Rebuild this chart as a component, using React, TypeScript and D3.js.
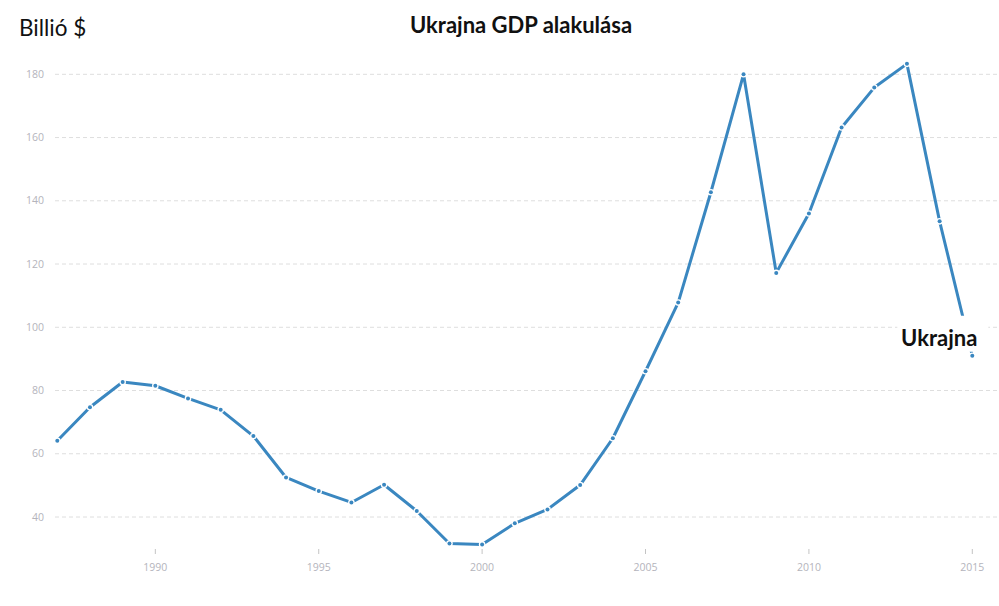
import React from "react";
import * as d3 from "d3";

const years: number[] = [
  1987, 1988, 1989, 1990, 1991, 1992, 1993, 1994, 1995, 1996, 1997, 1998, 1999, 2000,
  2001, 2002, 2003, 2004, 2005, 2006, 2007, 2008, 2009, 2010, 2011, 2012, 2013, 2014, 2015,
];
const gdp: number[] = [
  64.1, 74.7, 82.7, 81.5, 77.5, 73.9, 65.6, 52.5, 48.2, 44.6, 50.2, 41.9, 31.6, 31.3,
  38.0, 42.4, 50.1, 64.9, 86.1, 107.8, 142.7, 180.0, 117.2, 136.0, 163.2, 175.8, 183.3, 133.5, 91.0,
];
const xTicks: number[] = [1990, 1995, 2000, 2005, 2010, 2015];
const yTicks: number[] = [40, 60, 80, 100, 120, 140, 160, 180];
const title = "Ukrajna GDP alakulása";
const yTitle = "Billió $";
const seriesName = "Ukrajna";

const W = 999;
const H = 606;
const LINE = "#3a87c0";

export default function App() {
  const x = d3.scaleLinear().domain([1987, 2015]).range([57.3, 972.3]);
  const y = d3.scaleLinear().domain([40, 180]).range([517, 74.3]);
  const pts = years.map((yr, i) => ({ yr, v: gdp[i] }));
  const line = d3
    .line<{ yr: number; v: number }>()
    .x((d) => x(d.yr))
    .y((d) => y(d.v));
  const last = pts[pts.length - 1];
  const lx = x(last.yr);
  const ly = y(last.v);
  const axisY = 549;

  return (
    <svg
      width={W}
      height={H}
      style={{ position: "absolute", left: 0, top: 0, background: "#fff" }}
    >
      {yTicks.map((t) => (
        <g key={t}>
          <line
            x1={55}
            x2={W}
            y1={y(t)}
            y2={y(t)}
            stroke="#dedede"
            strokeWidth={1}
            strokeDasharray="4,3"
          />
          <text
            x={44}
            y={y(t)}
            dy="0.35em"
            textAnchor="end"
            fontFamily="'Open Sans', sans-serif"
            fontSize={10.5}
            fill="#b4b4bc"
          >
            {t}
          </text>
        </g>
      ))}
      {xTicks.map((t) => (
        <g key={t}>
          <line x1={x(t)} x2={x(t)} y1={axisY} y2={axisY + 5} stroke="#c4c4c4" strokeWidth={1} />
          <text
            x={x(t)}
            y={567}
            dy="0.35em"
            textAnchor="middle"
            fontFamily="'Open Sans', sans-serif"
            fontSize={10.5}
            fill="#b4b4bc"
          >
            {t}
          </text>
        </g>
      ))}
      <path d={line(pts) || ""} fill="none" stroke={LINE} strokeWidth={3} strokeLinejoin="round" />
      {pts.map((d) => (
        <g key={d.yr}>
          <circle cx={x(d.yr)} cy={y(d.v)} r={3.3} fill="#fff" />
          <circle cx={x(d.yr)} cy={y(d.v)} r={2} fill={LINE} />
        </g>
      ))}
      <rect x={lx - 75} y={ly - 40} width={91} height={36} fill="#fff" />
      <text
        x={lx + 5}
        y={ly - 10}
        textAnchor="end"
        fontFamily="Lato, sans-serif"
        fontWeight="bold"
        fontSize={22}
        fill="#111"
      >
        {seriesName}
      </text>
      <text
        x={521}
        y={33}
        textAnchor="middle"
        fontFamily="Lato, sans-serif"
        fontWeight="bold"
        fontSize={22}
        fill="#111"
      >
        {title}
      </text>
      <text x={19} y={36} fontFamily="Lato, sans-serif" fontSize={22.5} fill="#111">
        {yTitle}
      </text>
    </svg>
  );
}
